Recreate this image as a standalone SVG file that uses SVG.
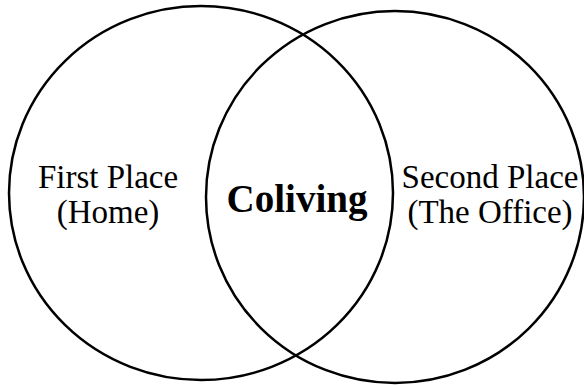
<svg xmlns="http://www.w3.org/2000/svg" width="584" height="385" viewBox="0 0 584 385">
<style>
.c{fill:none;stroke:#000;stroke-width:2.5}
.t{font-family:"Liberation Serif","Times New Roman",serif;font-size:33px;fill:#000;text-anchor:middle}
.b{font-family:"Liberation Serif","Times New Roman",serif;font-size:39px;font-weight:bold;fill:#000;text-anchor:middle}
</style>
<rect width="584" height="385" fill="#fff"/>
<g id="first-place">
<ellipse class="c" cx="201" cy="193" rx="192" ry="187"/>
<text class="t" x="108" y="188">First Place</text>
<text class="t" x="108" y="223">(Home)</text>
</g>
<g id="second-place">
<ellipse class="c" cx="395" cy="197" rx="189" ry="186"/>
<text class="t" x="490" y="188">Second Place</text>
<text class="t" x="490" y="223">(The Office)</text>
</g>
<g id="coliving">
<text class="b" x="297" y="212">Coliving</text>
</g>
<g id="connectors"></g>
</svg>
